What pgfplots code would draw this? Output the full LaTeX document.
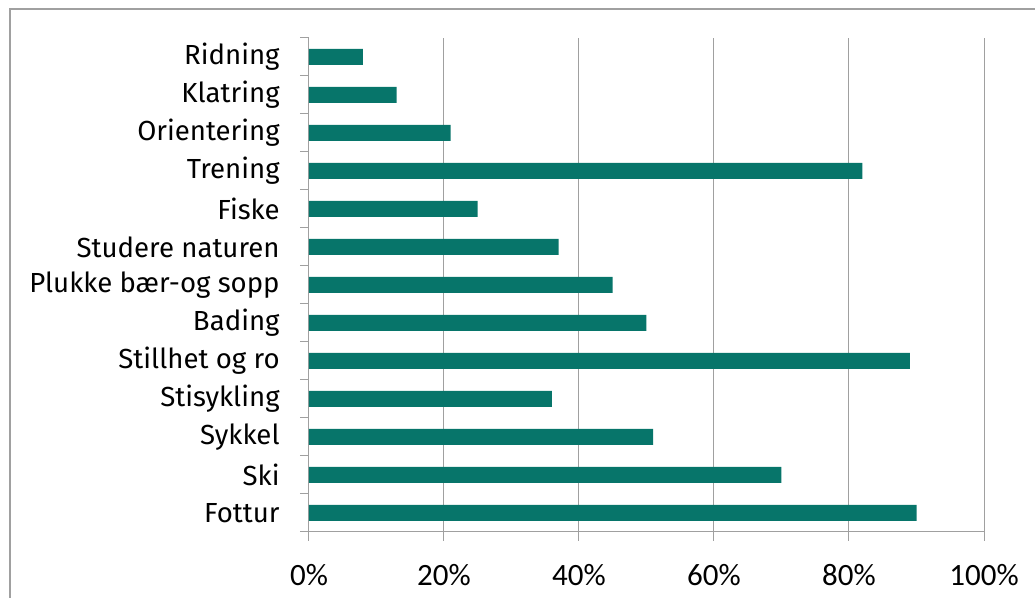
\documentclass[border=0pt]{standalone}
\usepackage{pgfplots}
\pgfplotsset{compat=1.18}
\usepackage{fontspec}
\setmainfont{Fira Sans}
\newfontfamily\tickfont{Carlito}
\definecolor{barteal}{RGB}{7,117,106}
\definecolor{gridgray}{RGB}{160,160,160}
\begin{document}
\begin{tikzpicture}
\useasboundingbox (0,0) rectangle (517.5pt,299pt);
\draw[gridgray, line width=0.6pt] (5pt,-10pt) rectangle (530pt,294.5pt);
\begin{axis}[
  at={(154.5pt,33pt)}, anchor=south west,
  scale only axis, width=337.5pt, height=247pt,
  xbar, bar width=8pt,
  xmin=0, xmax=100, ymin=-0.5, ymax=12.5,
  axis x line*=bottom, axis y line*=left,
  axis line style={gridgray, line width=0.5pt},
  xtick={0,20,...,100},
  xticklabels={0\%,20\%,40\%,60\%,80\%,100\%},
  xticklabel style={font=\tickfont\fontsize{15.5}{18}\selectfont, yshift=-8pt},
  xmajorgrids, grid style={gridgray, line width=0.5pt},
  tick align=outside, major tick length=4.5pt,
  x tick style={gridgray, line width=0.5pt},
  ytick={0,...,12}, y tick style={draw=none},
  yticklabels={Fottur,Ski,Sykkel,Stisykling,Stillhet og ro,Bading,Plukke bær-og sopp,Studere naturen,Fiske,Trening,Orientering,Klatring,Ridning},
  yticklabel style={font=\fontsize{13.8}{16}\selectfont, anchor=east, inner sep=0pt, xshift=-10pt},
  extra y ticks={-0.5,0.5,...,12.5}, extra y tick labels={},
  extra y tick style={y tick style={draw=gridgray, line width=0.5pt}, grid=none},
]
\addplot[fill=barteal, draw=none] coordinates {
  (90,0) (70,1) (51,2) (36,3) (89,4) (50,5) (45,6) (37,7) (25,8) (82,9) (21,10) (13,11) (8,12)
};
\end{axis}
\end{tikzpicture}
\end{document}
